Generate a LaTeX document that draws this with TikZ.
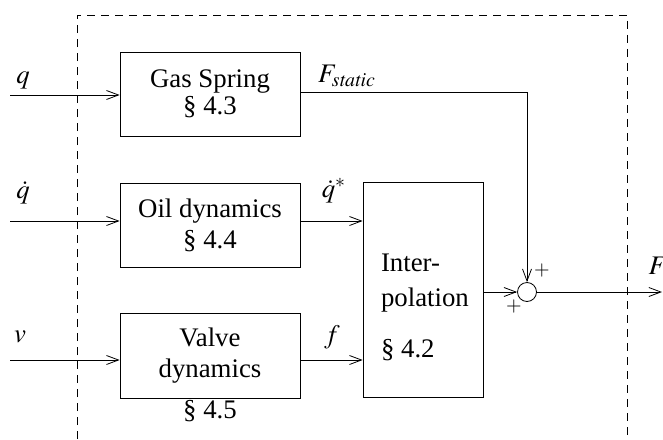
\documentclass[tikz,border=0pt,12pt]{standalone}
\usepackage{mathptmx}
\usepackage{fontspec}
\setmainfont{Liberation Serif}
\usetikzlibrary{positioning, arrows.meta}

\begin{document}
\begin{tikzpicture}[x=0.5pt, y=-0.5pt,
        every node/.style={font=\fontsize{13.4pt}{15.5pt}\selectfont},
        block/.style={draw, thin, minimum width=90pt, minimum height=42pt, align=center, inner sep=1pt},
        sumnode/.style={draw, thin, circle, minimum size=9.5pt, inner sep=0pt},
        sig/.style={thin, -{Straight Barb[length=6pt, width=4.5pt]}},
        frame/.style={thin, dash pattern=on 4pt off 3pt},
        sign/.style={inner sep=0pt, font=\fontsize{10pt}{12pt}\selectfont},
    ]
    \useasboundingbox (0,0) rectangle (663,439);
    \draw[frame] (77,439) -- (77,15) -- (627,15) -- (627,439);

    \node[block] (gas) at (210,94) {Gas Spring\\[-2pt]§ 4.3};
    \node[block] (oil) at (210,225) {Oil dynamics\\§ 4.4};
    \node[block, minimum height=42.5pt] (valve) at (210,355.5) {Valve\\dynamics};
    \node[below=0pt of valve, inner sep=1pt] (valvesec) {§ 4.5};
    \node[draw, thin, minimum width=60pt, minimum height=107.5pt] (interp) at (423,289.5) {};
    \node[right=9pt of interp.west, yshift=-9pt, align=left, inner sep=0pt] (interptext)
        {Inter-\\[2pt]polation\\[10pt]§ 4.2};
    \node[sumnode] (sum) at (527,292) {};

    \coordinate (qin) at (10,95);
    \coordinate (qdin) at (10,221);
    \coordinate (vin) at (10,360);
    \coordinate (fout) at (662,292);

    \node (qlbl) at (23,80) {$q$};
    \node (qdlbl) at (23,193) {$\dot q$};
    \node (vlbl) at (20,337) {$v$};
    \node (fslbl) at (347,76) {$F_{\mathit{static}}$};
    \node (qslbl) at (334,191) {$\dot q^*$};
    \node (flbl) at (332,337) {$f$};
    \node (Flbl) at (658,266) {$F$};
    \node[sign] (plustop) at (542,270) {$+$};
    \node[sign] (plusleft) at (514,306) {$+$};

    \draw[sig] (qin) -- (qin -| gas.west);
    \draw[sig] (qdin) -- (qdin -| oil.west);
    \draw[sig] (vin) -- (vin -| valve.west);
    \draw[sig] ([yshift=1pt]gas.east) -| (sum.north);
    \draw[sig] (qdin -| oil.east) -- (qdin -| interp.west);
    \draw[sig] (vin -| valve.east) -- (vin -| interp.west);
    \draw[sig] (sum -| interp.east) -- (sum.west);
    \draw[sig] (sum.east) -- (fout);
\end{tikzpicture}
\end{document}
